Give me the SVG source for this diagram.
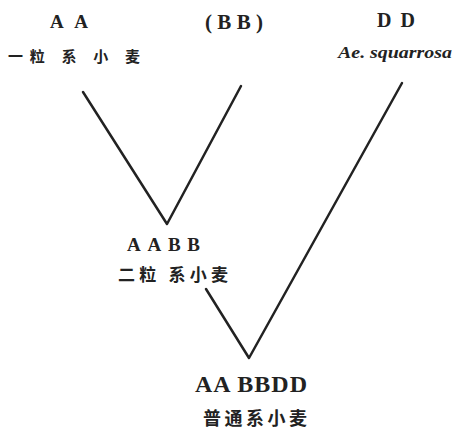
<svg xmlns="http://www.w3.org/2000/svg" width="455" height="433" viewBox="0 0 455 433">
<style>
.lat{font-family:"Liberation Serif",serif;font-weight:bold;fill:#222}
.cjk{font-family:"Noto Sans CJK SC","Noto Sans CJK JP",sans-serif;font-weight:bold;fill:#222}
.ln{stroke:#222;stroke-width:2.5;fill:none;stroke-linecap:round;stroke-linejoin:round}
</style>
<rect width="455" height="433" fill="#fff"/>
<g id="AA">
<text class="lat" x="50" y="28" font-size="19" textLength="38" lengthAdjust="spacing">A A</text>
<text class="cjk" x="8" y="62" font-size="15" textLength="132" lengthAdjust="spacing">一粒 系 小 麦</text>
</g>
<g id="BB">
<text class="lat" x="205" y="29" font-size="21" textLength="58" lengthAdjust="spacing">(BB)</text>
</g>
<g id="DD">
<text class="lat" x="377" y="27" font-size="20" textLength="38" lengthAdjust="spacing">DD</text>
<text class="lat" x="338" y="58" font-size="16" font-style="italic" textLength="114" lengthAdjust="spacingAndGlyphs">Ae. squarrosa</text>
</g>
<g id="AABB">
<text class="lat" x="127" y="251" font-size="19" textLength="73" lengthAdjust="spacing">AABB</text>
<text class="cjk" x="118" y="281" font-size="17" textLength="110" lengthAdjust="spacing">二粒 系小麦</text>
</g>
<g id="AABBDD">
<text class="lat" x="195" y="392" font-size="24" textLength="112" lengthAdjust="spacing">AA BBDD</text>
<text class="cjk" x="203" y="425" font-size="18" textLength="104" lengthAdjust="spacing">普通系小麦</text>
</g>
<g id="connectors">
<polyline class="ln" points="83,92 167,224 241,86"/>
<polyline class="ln" points="206,289 249,358 402,83"/>
</g>
</svg>
